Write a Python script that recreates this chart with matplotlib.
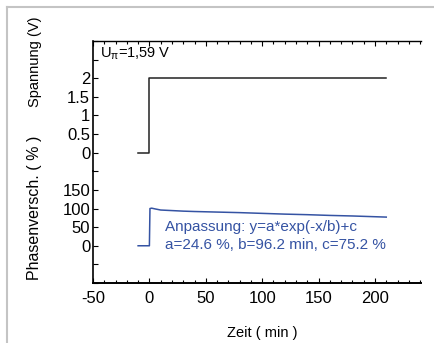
import matplotlib
matplotlib.use("Agg")
import matplotlib.pyplot as plt
from matplotlib.lines import Line2D
from matplotlib.ticker import MultipleLocator

plt.rcParams['font.family'] = ['Liberation Sans', 'DejaVu Sans']
plt.rcParams['mathtext.fontset'] = 'custom'
plt.rcParams['mathtext.rm'] = 'Liberation Sans'
plt.rcParams['mathtext.it'] = 'Liberation Sans'
plt.rcParams['axes.unicode_minus'] = False

# Spannung (V) über Zeit (min)
zeit_u = [-10, 0, 0, 210]
spannung = [0, 0, 2, 2]

# Phasenverschiebung (%) über Zeit (min)
zeit_p = [-10, 0, 0.5, 2, 5, 10, 20, 30, 40, 60, 80, 100, 120, 140, 160, 180, 200, 210]
phase = [0, 0, 100, 101, 99, 96, 94.5, 93, 92, 90.5, 89, 87, 85, 83.5, 81.5, 80, 78, 77]

fit_text = "Anpassung: y=a*exp(-x/b)+c\na=24.6 %, b=96.2 min, c=75.2 %"
blau = "#3553a3"

fig = plt.figure(figsize=(4.35, 3.43), dpi=100)
links, rechts = 93 / 435, 421 / 435
oben, mitte, unten = 1 - 41 / 343, 1 - 171.3 / 343, 1 - 283 / 343
ax1 = fig.add_axes([links, mitte, rechts - links, oben - mitte])
ax2 = fig.add_axes([links, unten, rechts - links, mitte - unten], sharex=ax1)

# oben: Spannung
ax1.plot(zeit_u, spannung, color="#222222", lw=1.1)
ax1.set_ylim(-0.5, 3)
ax1.set_yticks([0, 0.5, 1, 1.5, 2, 2.5, 3])
ax1.set_yticklabels(["0", "0.5", "1", "1.5", "2", "", ""])
ax1.text(-44, 2.66, r"U$_{\pi}$=1,59 V", fontsize=10.5, va="center")

# unten: Phasenverschiebung
ax2.plot(zeit_p, phase, color=blau, lw=1.1)
ax2.set_ylim(-100, 200)
ax2.set_yticks([-100, -50, 0, 50, 100, 150, 200])
ax2.set_yticklabels(["", "", "0", "50", "100", "150", ""])
ax2.text(14, 68, fit_text, color=blau, fontsize=11, va="top", linespacing=1.3)

ax1.set_xlim(-50, 240.8)
ax2.xaxis.set_major_locator(MultipleLocator(50))
ax2.xaxis.set_minor_locator(MultipleLocator(10))
ax2.set_xticks([-50, 0, 50, 100, 150, 200])

for sp in ["right", "bottom"]:
    ax1.spines[sp].set_visible(False)
for sp in ["right", "top"]:
    ax2.spines[sp].set_visible(False)
for ax in (ax1, ax2):
    ax.spines["left"].set_linewidth(1.2)
    ax.tick_params(axis="both", which="both", direction="in", labelsize=12, pad=2)
    ax.tick_params(which="major", length=3.5, width=0.8)
    ax.tick_params(which="minor", length=2.2, width=0.8)
    ax.set_facecolor("none")
ax1.spines["top"].set_linewidth(1.0)
ax2.spines["bottom"].set_linewidth(1.4)
ax1.tick_params(axis="x", which="both", top=True, bottom=False, labeltop=False, labelbottom=False)
ax2.tick_params(axis="x", which="both", top=False, bottom=True, pad=6)

fig.text(0.08, 1 - 62 / 343, "Spannung (V)", rotation=90, fontsize=10.5, ha="center", va="center")
fig.text(0.08, 1 - 208 / 343, "Phasenversch. ( % )", rotation=90, fontsize=11.5, ha="center", va="center")
fig.text(262 / 435, 1 - 333 / 343, "Zeit ( min )", fontsize=10.5, ha="center", va="center")

# grauer Rahmen
fig.add_artist(Line2D([7 / 435, 1], [1 - 7 / 343, 1 - 7 / 343], color="#c4c4c4", lw=1.5))
fig.add_artist(Line2D([7 / 435, 7 / 435], [0, 1 - 7 / 343], color="#c4c4c4", lw=1.5))

plt.savefig("out.png", dpi=100)
plt.close()
